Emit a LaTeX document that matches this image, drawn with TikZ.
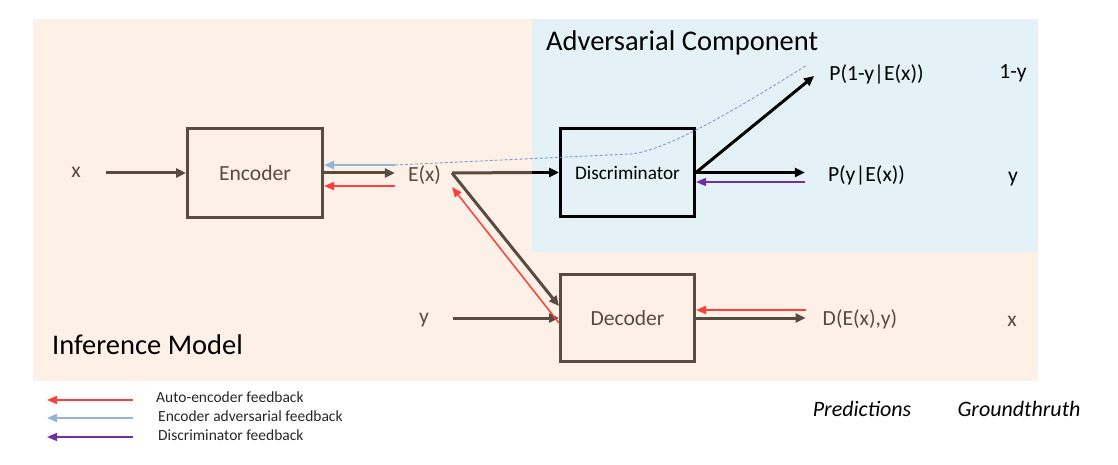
\documentclass[tikz,border=0pt]{standalone}
\usepackage{fontspec}
\setmainfont{Carlito}
\usetikzlibrary{arrows.meta}
\definecolor{peach}{HTML}{FDF0E7}
\definecolor{paleblue}{HTML}{E4F2F7}
\definecolor{brn}{HTML}{594B40}
\definecolor{fbred}{HTML}{FF3D3D}
\definecolor{fbblue}{HTML}{95B3D7}
\definecolor{fbpurple}{HTML}{7030A0}
\definecolor{dashblue}{HTML}{7F9CC2}
\tikzset{
  boxnode/.style={draw=brn, line width=3pt, inner sep=0pt, text=brn, font=\fontsize{21.6}{26}\selectfont},
  lbl/.style={inner sep=0pt, text=brn, font=\fontsize{21.6}{26}\selectfont},
  blklbl/.style={inner sep=0pt, text=black, font=\fontsize{21.6}{26}\selectfont},
  titlelbl/.style={inner sep=0pt, anchor=west, text=black, font=\fontsize{28.5}{34}\selectfont},
  leglbl/.style={inner sep=0pt, anchor=west, text=black!85, font=\fontsize{15.5}{19}\selectfont},
  italbl/.style={inner sep=0pt, text=black, font=\fontsize{22}{26}\selectfont\itshape},
  brarrow/.style={draw=brn, line width=3pt, -{Triangle[length=10pt,width=9pt]}},
  brline/.style={draw=brn, line width=3pt},
  blkarrow/.style={draw=black, line width=3pt, -{Triangle[length=10pt,width=9pt]}},
  redfb/.style={draw=fbred, line width=1.5pt, -{Triangle[length=10pt,width=8pt]}},
  bluefb/.style={draw=fbblue, line width=2pt, -{Triangle[length=10pt,width=8pt]}},
  purplefb/.style={draw=fbpurple, line width=1.5pt, -{Triangle[length=10pt,width=8pt]}},
  dashcurve/.style={draw=dashblue, line width=0.9pt, dash pattern=on 3pt off 2pt},
}
\begin{document}
\begin{tikzpicture}[x=1pt,y=-1pt]
\useasboundingbox (0,0) rectangle (1118,465);
% backgrounds
\fill[peach] (33,19) rectangle (1038,381);
\fill[paleblue] (532,19) rectangle (1038,252);

% titles
\node[titlelbl] (advtitle) at (546,43) {Adversarial Component};
\node[titlelbl] (inftitle) at (52,345) {Inference Model};

% boxes
\node[boxnode, minimum width=135pt, minimum height=89pt] (enc) at (255,173) {Encoder};
\node[boxnode, draw=black, text=black, font=\fontsize{19.2}{23}\selectfont, minimum width=134pt, minimum height=88pt] (disc) at (627.5,172.5) {Discriminator};
\node[boxnode, minimum width=134pt, minimum height=87pt] (dec) at (627.5,318) {Decoder};

% labels
\node[lbl] (xin) at (76,172) {x};
\node[lbl] (ex) at (424.5,175) {E(x)};
\node[lbl] (yin) at (424,320) {y};
\node[lbl] (dex) at (860,319) {D(E(x),y)};
\node[blklbl] (p1y) at (876.5,74) {P(1-y|E(x))};
\node[blklbl] (py) at (866.5,175) {P(y|E(x))};
\node[blklbl] (gt1) at (1013,73) {1-y};
\node[blklbl] (gty) at (1013,179) {y};
\node[lbl] (gtx) at (1012,321) {x};
\node[italbl] (pred) at (862,409) {Predictions};
\node[italbl] (gtruth) at (1019,409) {Groundthruth};

\coordinate (exr) at (452,173);
\coordinate (bsplit) at (532,172.5);
\coordinate (dmid) at (630,154);
\coordinate (dend) at (807,65);

% main flow
\draw[brarrow] ([xshift=25pt,yshift=-1pt]xin.east) -- (enc.west);
\draw[brarrow] (enc.east) -- ([xshift=-13pt,yshift=2pt]ex.west);
\draw[brline] (exr) -- (bsplit);
\draw[blkarrow] (bsplit) -- (disc.west);
\draw[brarrow] (exr) -- ([yshift=12pt]dec.west);
\draw[brarrow] ([xshift=23.5pt,yshift=2pt]yin.east) -- (dec.west);
\draw[brarrow] (dec.east) -- ([xshift=-17pt,yshift=1pt]dex.west);
\draw[blkarrow] (disc.east) -- ([xshift=-23pt,yshift=2.5pt]py.west);
\draw[blkarrow] (disc.east) -- ([xshift=-15pt,yshift=-2pt]p1y.west);

% feedback
\draw[bluefb] ([xshift=-13pt,yshift=10pt]ex.west) -- ([yshift=8pt]enc.east);
\draw[redfb] ([xshift=-13pt,yshift=-11pt]ex.west) -- ([yshift=-13pt]enc.east);
\draw[redfb] ([yshift=-5pt]dec.west) -- ([yshift=-14pt]exr);
\draw[redfb] ([xshift=-17pt,yshift=9pt]dex.west) -- ([yshift=8pt]dec.east);
\draw[purplefb] ([xshift=-23pt,yshift=-7pt]py.west) -- ([yshift=-9.5pt]disc.east);
\draw[dashcurve] ([xshift=-13pt,yshift=10pt]ex.west) -- (dmid) .. controls (660,152) and (720,120) .. (dend);

% legend
\node[leglbl] (leg1) at (156,397) {Auto-encoder feedback};
\node[leglbl] (leg2) at (158,416) {Encoder adversarial feedback};
\node[leglbl] (leg3) at (158,435) {Discriminator feedback};
\coordinate (l1s) at (133,400); \coordinate (l1e) at (47,400);
\coordinate (l2s) at (133,418); \coordinate (l2e) at (47,418);
\coordinate (l3s) at (133,437); \coordinate (l3e) at (47,437);
\draw[redfb] (l1s) -- (l1e);
\draw[bluefb] (l2s) -- (l2e);
\draw[purplefb] (l3s) -- (l3e);
\end{tikzpicture}
\end{document}
